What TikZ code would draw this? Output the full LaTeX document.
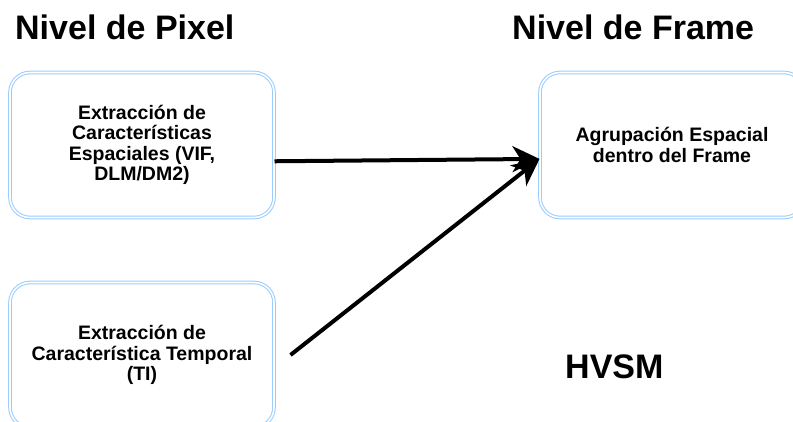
\documentclass[tikz,border=0pt]{standalone}
\usepackage{fontspec}
\setmainfont{Liberation Sans}
\usetikzlibrary{arrows.meta, positioning}
\definecolor{HVSMblue}{HTML}{99CCFF}

\begin{document}
\begin{tikzpicture}[x=1pt, y=-1pt,
      box/.style={rectangle, rounded corners=20pt, draw=HVSMblue, double=white,
                  double distance=1.6pt, line width=1pt, minimum width=264pt,
                  minimum height=145pt, align=center, inner sep=5pt,
                  font=\fontsize{19.5}{20.5}\selectfont\bfseries},
      title/.style={anchor=base west, inner sep=0pt,
                    font=\fontsize{34}{40}\selectfont\bfseries},
      arr/.style={-{Stealth[length=27pt, width=26pt, inset=8pt]}, line width=4pt}]
      \useasboundingbox (0,0) rectangle (793,421);
      % Level titles
      \node[title] (px) at (15,39) {Nivel de Pixel};
      \node[title] (fm) at (512,39) {Nivel de Frame};
      % Pixel level: feature extraction
      \node[box] (sp) at (142,145) {Extracci\'on de\\Caracter\'isticas\\Espaciales (VIF,\\DLM/DM2)};
      \node[box] (tp) at (142,355) {Extracci\'on de\\Caracter\'istica Temporal\\(TI)};
      % Frame level: pooling
      \node[box] (fr) at (672,145) {Agrupaci\'on Espacial\\dentro del Frame};
      % Model name
      \node[title] (hv) at (565,378) {HVSM};
      % Arrows
      \coordinate (t0) at ([xshift=16pt]tp.east);
      \draw[arr] (sp.-7) -- (fr.186);
      \draw[arr] (t0) -- (fr.186);
   \end{tikzpicture}
\end{document}
